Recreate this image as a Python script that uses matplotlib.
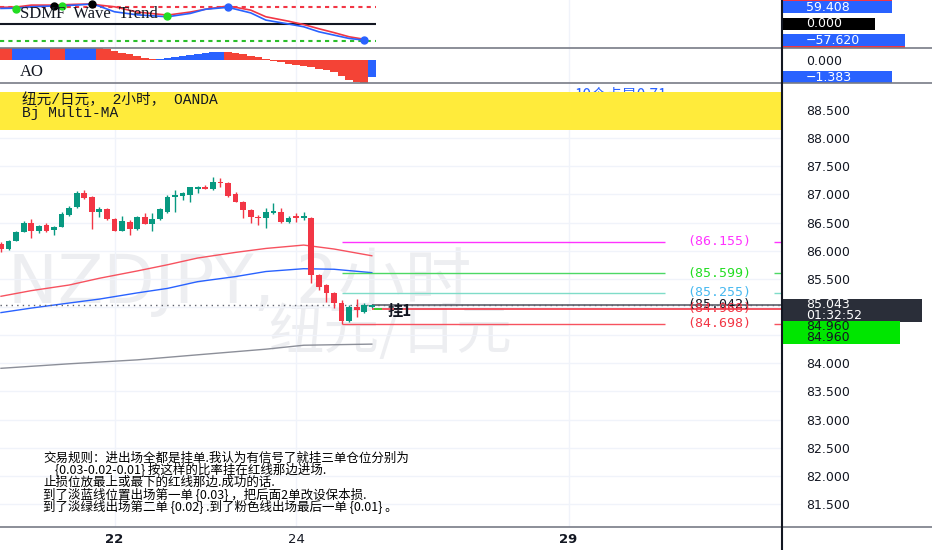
import matplotlib
matplotlib.use("Agg")
import matplotlib.pyplot as plt
import numpy as np
from matplotlib.lines import Line2D
from matplotlib.patches import Rectangle
from matplotlib.transforms import blended_transform_factory

plt.rcParams["font.family"] = ["DejaVu Sans", "Noto Sans CJK SC"]
plt.rcParams["axes.unicode_minus"] = False

W, H = 932, 550

# ---- data -------------------------------------------------------------
# NZDJPY 2h candles, index 0 = first visible bar
opens = [86.121, 86.032, 86.174, 86.334, 86.494, 86.352, 86.459, 86.370, 86.423, 86.636,
         86.779, 87.027, 86.960, 86.690, 86.743, 86.565, 86.352, 86.512, 86.388, 86.601,
         86.476, 86.565, 86.690, 86.956, 86.974, 86.992, 87.099, 87.134, 87.099, 87.223,
         87.205, 87.010, 86.868, 86.725, 86.601, 86.583, 86.672, 86.690, 86.512, 86.619,
         86.583, 86.583, 85.570, 85.390, 85.250, 85.072, 84.752, 85.001, 84.912, 85.000]
highs = [86.157, 86.192, 86.352, 86.530, 86.565, 86.459, 86.494, 86.441, 86.690, 86.800,
         87.063, 87.081, 86.980, 86.780, 86.750, 86.580, 86.619, 86.550, 86.620, 86.672,
         86.672, 86.760, 86.990, 87.081, 87.045, 87.140, 87.152, 87.170, 87.312, 87.290,
         87.223, 87.045, 86.886, 86.740, 86.636, 86.761, 86.850, 86.761, 86.620, 86.672,
         86.690, 86.600, 85.588, 85.410, 85.270, 85.130, 85.040, 85.143, 85.070, 85.060]
lows = [85.979, 86.014, 86.170, 86.330, 86.228, 86.316, 86.334, 86.281, 86.420, 86.620,
        86.760, 86.920, 86.388, 86.601, 86.550, 86.345, 86.345, 86.281, 86.370, 86.470,
        86.352, 86.550, 86.670, 86.690, 86.900, 86.868, 87.030, 87.090, 87.080, 87.130,
        86.956, 86.860, 86.583, 86.494, 86.459, 86.405, 86.660, 86.494, 86.494, 86.512,
        86.547, 85.428, 85.300, 85.090, 84.983, 84.698, 84.735, 84.823, 84.894, 84.990]
closes = [86.032, 86.174, 86.334, 86.494, 86.352, 86.441, 86.352, 86.423, 86.654, 86.761,
          87.027, 86.939, 86.690, 86.743, 86.565, 86.352, 86.530, 86.388, 86.601, 86.476,
          86.565, 86.743, 86.956, 86.992, 87.027, 87.134, 87.134, 87.099, 87.223, 87.205,
          86.974, 86.868, 86.725, 86.601, 86.583, 86.690, 86.708, 86.512, 86.583, 86.583,
          86.619, 85.570, 85.357, 85.250, 85.072, 84.752, 85.001, 84.948, 85.037, 85.043]

# moving averages (read at a few bars)
ma_red_idx = [0, 4, 9, 13, 18, 22, 26, 31, 35, 40, 44, 49]
ma_red = [85.19, 85.29, 85.39, 85.51, 85.64, 85.75, 85.87, 85.97, 86.04, 86.10, 86.03, 85.91]
ma_blue_idx = [0, 4, 9, 13, 18, 22, 26, 31, 35, 40, 44, 49]
ma_blue = [84.90, 84.98, 85.07, 85.14, 85.25, 85.33, 85.45, 85.54, 85.63, 85.68, 85.67, 85.61]
ma_gray_idx = [0, 9, 18, 26, 35, 40, 49]
ma_gray = [83.91, 83.99, 84.06, 84.15, 84.25, 84.32, 84.34]

# order levels
target_levels = [86.155, 85.599, 85.255, 84.698]
target_labels = ["(86.155)", "(85.599)", "(85.255)", "(84.698)"]
entry_levels = [85.042, 84.968]
entry_labels = ["(85.042)", "(84.968)"]
last_price = 85.043
order_price = 84.960
signal_bar = 45

# date axis
date_ticks = [15, 39, 75]
date_labels = ["22", "24", "29"]

# price scale (labels hidden behind the price tags are left blank)
price_ticks = [81.5, 82.0, 82.5, 83.0, 83.5, 84.0, 84.5, 85.0, 85.5, 86.0, 86.5, 87.0, 87.5, 88.0, 88.5]
price_labels = ["81.500", "82.000", "82.500", "83.000", "83.500", "84.000", "", "",
                "85.500", "86.000", "86.500", "87.000", "87.500", "88.000", "88.500"]

# SDMF wave trend
wt_idx = [0, 2, 4, 7, 10, 12, 13, 15, 18, 22, 25, 27, 30, 33, 35, 38, 40, 42, 44, 46, 48]
wt1 = [56, 57, 62, 65, 68, 72, 64, 44, 33, 26, 38, 53, 60, 40, 14, 0, -10, -28, -40, -52, -58]
wt2 = [60, 61, 68, 68, 71, 72, 68, 62, 43, 32, 43, 53, 65, 50, 26, 10, -2, -17, -31, -46, -55]
dot_green_idx = [2, 8, 22]
dot_green = [55, 63, 28]
dot_black_idx = [7, 12]
dot_black = [66, 72]
dot_blue_idx = [30, 48]
dot_blue = [61, -57]

# awesome oscillator
ao = [1.3, 1.25, 1.3, 1.35, 1.4, 1.45, 1.5, 1.45, 1.4, 1.45, 1.5, 1.55, 1.6,
      1.1, 0.88, 0.74, 0.6, 0.47, 0.34, 0.2, 0.06,
      0.1, 0.18, 0.26, 0.34, 0.42, 0.5, 0.57, 0.63, 0.68,
      0.64, 0.57, 0.48, 0.36, 0.22, 0.06, -0.08, -0.2, -0.3, -0.38, -0.46, -0.55,
      -0.7, -0.85, -1.0, -1.3, -1.6, -1.8, -1.95, -1.383]

rules = [
    "交易规则：进出场全都是挂单.我认为有信号了就挂三单仓位分别为",
    "{0.03-0.02-0.01} 按这样的比率挂在红线那边进场.",
    "止损位放最上或最下的红线那边.成功的话.",
    "到了淡蓝线位置出场第一单 {0.03} ，把后面2单改设保本损.",
    "到了淡绿线出场第二单 {0.02} .到了粉色线出场最后一单 {0.01} 。",
]

UP, DOWN = "#089981", "#f23645"
XLIM = (-0.13, 103.2)
CJK = ["Noto Sans CJK SC", "DejaVu Sans"]


def px_axes(x0, top, x1, bottom):
    return [x0 / W, 1 - bottom / H, (x1 - x0) / W, (bottom - top) / H]


def price_tag(ax, value, lines, face, fg="white", width_px=110, shift_px=0.0, size=9):
    pos = ax.get_position()
    ax_w, ax_h = pos.width * W, pos.height * H
    lo, hi = ax.get_ylim()
    per_px = (hi - lo) / ax_h
    trans = blended_transform_factory(ax.transAxes, ax.transData)
    step = 11.0
    top = value + (6.0 - shift_px) * per_px
    height = (12 + step * (len(lines) - 1)) * per_px
    ax.add_patch(Rectangle((1.0 + 1.0 / ax_w, top - height), width_px / ax_w, height,
                           transform=trans, facecolor=face, edgecolor="none",
                           clip_on=False, zorder=10))
    for i, line in enumerate(lines):
        if line:
            ax.text(1.0 + 24 / ax_w, value - (shift_px + step * i) * per_px, line,
                    transform=trans, ha="left", va="center", color=fg, fontsize=size,
                    clip_on=False, zorder=11)


fig = plt.figure(figsize=(W / 100, H / 100), dpi=100)
ax_wt = fig.add_axes(px_axes(0, 0, 782, 48.3))
ax_ao = fig.add_axes(px_axes(0, 48.3, 782, 83))
ax = fig.add_axes(px_axes(0, 83, 782, 527))

for a in (ax_wt, ax_ao, ax):
    a.set_xlim(*XLIM)
    for s in a.spines.values():
        s.set_visible(False)
    a.set_xticks(date_ticks)
    a.grid(axis="x", color="#f0f3fa", lw=1)
    a.set_axisbelow(True)

# ---- wave trend panel --------------------------------------------------
ax_wt.set_ylim(-87.5, 86.4)
ax_wt.set_yticks([])
ax_wt.tick_params(axis="x", length=0, labelbottom=False)
ax_wt.hlines(60, XLIM[0], 49.5, colors="#f23645", linestyles=(0, (2, 2)), lw=1.5)
ax_wt.hlines(0, XLIM[0], 49.5, colors="#131722", lw=1.5)
ax_wt.hlines(-60, XLIM[0], 49.5, colors="#2bbf2b", linestyles=(0, (2, 2)), lw=1.5)
ax_wt.plot(wt_idx, wt2, color="#f23645", lw=1.2)
ax_wt.plot(wt_idx, wt1, color="#2962ff", lw=1.2)
ax_wt.plot(dot_green_idx, dot_green, "o", color="#22dd22", ms=5)
ax_wt.plot(dot_black_idx, dot_black, "o", color="black", ms=5)
ax_wt.plot(dot_blue_idx, dot_blue, "o", color="#2962ff", ms=5)
ax_wt.text(20 / 782, 0.70, "SDMF  Wave  Trend", transform=ax_wt.transAxes,
           family="Liberation Serif", fontsize=12, color="#131722", va="center")
price_tag(ax_wt, 66, [""], "#f23645", width_px=109)
price_tag(ax_wt, -66, [""], "#f23645", width_px=122)
price_tag(ax_wt, 59.408, ["59.408"], "#2962ff", width_px=109)
price_tag(ax_wt, 0, ["0.000"], "#000000", width_px=92)
price_tag(ax_wt, -57.62, ["\u221257.620"], "#2962ff", width_px=122)

# ---- AO panel -----------------------------------------------------------
ax_ao.set_ylim(-1.87, 0.951)
ao_arr = np.array(ao)
rising = np.r_[False, np.diff(ao_arr) > 0]
ax_ao.bar(np.arange(len(ao)), ao_arr, width=1.0, lw=0,
          color=np.where(rising, "#2962ff", "#f44336"))
ax_ao.yaxis.tick_right()
ax_ao.set_yticks([0])
ax_ao.set_yticklabels(["0.000"])
ax_ao.tick_params(axis="y", length=0, pad=17.3, labelsize=9, labelcolor="#131722")
ax_ao.tick_params(axis="x", length=0, labelbottom=False)
ax_ao.text(20 / 782, 0.32, "AO", transform=ax_ao.transAxes, family="Liberation Serif",
           fontsize=12, color="#131722", va="center")
price_tag(ax_ao, -1.383, ["\u22121.383"], "#2962ff", width_px=109)

# ---- main price panel ---------------------------------------------------
ax.set_ylim(81.09, 88.98)
ax.yaxis.tick_right()
ax.set_yticks(price_ticks)
ax.set_yticklabels(price_labels)
ax.tick_params(axis="y", length=0, pad=17.3, labelsize=9, labelcolor="#131722")
ax.set_xticklabels(date_labels)
ax.tick_params(axis="x", length=0, pad=4.5, labelsize=9.5, labelcolor="#131722")
for lbl, wt in zip(ax.get_xticklabels(), ["bold", "normal", "bold"]):
    lbl.set_fontweight(wt)
ax.grid(axis="y", color="#f0f3fa", lw=1)

# watermark
ax.text(8 / 782, (527 - 282) / 444, "NZDJPY, 2小时", transform=ax.transAxes,
        fontsize=48, color="#edeef1", va="center", ha="left", zorder=0)
ax.text(390 / 782, (527 - 333) / 444, "纽元/日元", transform=ax.transAxes,
        family=CJK, fontsize=40, color="#edeef1", va="center", ha="center", zorder=0)

# legend band
ax.text(575 / 782, (527 - 95) / 444, "10个点是0.71", transform=ax.transAxes,
        family=CJK, fontsize=11, color="#2962ff", va="center", zorder=1)
ax.add_patch(Rectangle((0, (527 - 130) / 444), 1, 38 / 444, transform=ax.transAxes,
                       facecolor="#ffeb3b", edgecolor="none", zorder=2))
ax.text(22 / 782, (527 - 100) / 444, "纽元/日元， 2小时， OANDA", transform=ax.transAxes,
        family=["Liberation Mono", "Noto Sans CJK SC"], fontsize=10.5, color="#131722",
        va="center", zorder=3)
ax.text(22 / 782, (527 - 113) / 444, "Bj Multi-MA", transform=ax.transAxes,
        family=["Liberation Mono", "Noto Sans CJK SC"], fontsize=10.5, color="#131722",
        va="center", zorder=3)

# moving averages
ax.plot(ma_red_idx, ma_red, color="#f7525f", lw=1, zorder=2)
ax.plot(ma_blue_idx, ma_blue, color="#2962ff", lw=1, zorder=2)
ax.plot(ma_gray_idx, ma_gray, color="#8c8f99", lw=1, zorder=2)

# last price dotted line
ax.axhline(last_price, color="#5d606b", lw=1, linestyle=(0, (1, 3)), zorder=2)

# candles
idx = np.arange(len(opens))
o, h, l, c = map(np.array, (opens, highs, lows, closes))
col = np.where(c >= o, UP, DOWN)
ax.vlines(idx, l, h, colors=col, lw=1, zorder=3)
ax.bar(idx, np.maximum(np.abs(c - o), 0.012), bottom=np.minimum(o, c), width=0.76,
       color=col, lw=0, zorder=4)

# order levels
target_colors = ["#ff33ff", "#4cd964", "#7fdcc8", "#f7525f"]
target_text = ["#ff33ff", "#22dd22", "#48b9f0", "#f23645"]
gap_from, gap_to = 87.7, 102.2
for lev, lab, lc, tc in zip(target_levels, target_labels, target_colors, target_text):
    ax.hlines(lev, signal_bar, gap_from, colors=lc, lw=1, zorder=3)
    ax.hlines(lev, gap_to, XLIM[1], colors=lc, lw=1, zorder=3)
    ax.text((gap_from + gap_to) / 2, lev, lab, color=tc, fontsize=9.5,
            family="DejaVu Sans Mono", ha="center", va="center", zorder=5)
entry_colors = ["#5d606b", "#f23645"]
entry_text = ["#131722", "#f23645"]
for lev, lab, lc, tc in zip(entry_levels, entry_labels, entry_colors, entry_text):
    ax.hlines(lev, len(opens) - 1, XLIM[1], colors=lc, lw=1.2, zorder=3)
    ax.text((gap_from + gap_to) / 2, lev, lab, color=tc, fontsize=9.5,
            family="DejaVu Sans Mono", ha="center", va="center", zorder=5)
ax.hlines(order_price, len(opens) - 0.7, len(opens) + 0.3, colors="#22dd22", lw=1.2, zorder=5)
ax.text(len(opens) + 1.1, order_price - 0.03, "挂1", family=CJK,
        fontsize=11, fontweight="bold", color="#131722", va="center", zorder=5)

# rules text
rule_y = [458, 470, 482, 494, 506]
rule_x = [43, 55, 43, 43, 43]
for txt, yy, xx in zip(rules, rule_y, rule_x):
    ax.text(xx / 782, (527 - yy) / 444, txt, transform=ax.transAxes,
            family=CJK, fontsize=9, color="black", va="center", ha="left", zorder=6)

# price scale tags
price_tag(ax, last_price, ["85.043", "01:32:52"], "#2a2e39", width_px=139)
price_tag(ax, order_price, ["84.960", "84.960"], "#00e600", fg="#131722",
          width_px=117, shift_px=17.5)

# separators and scale border
for yy in (48.3, 83, 527):
    fig.add_artist(Line2D([0, 1], [1 - yy / H] * 2, transform=fig.transFigure,
                          color="#787b86", lw=1.2))
fig.add_artist(Line2D([782 / W] * 2, [0, 1], transform=fig.transFigure,
                      color="#131722", lw=1.5))

fig.savefig("out.png", dpi=100)
